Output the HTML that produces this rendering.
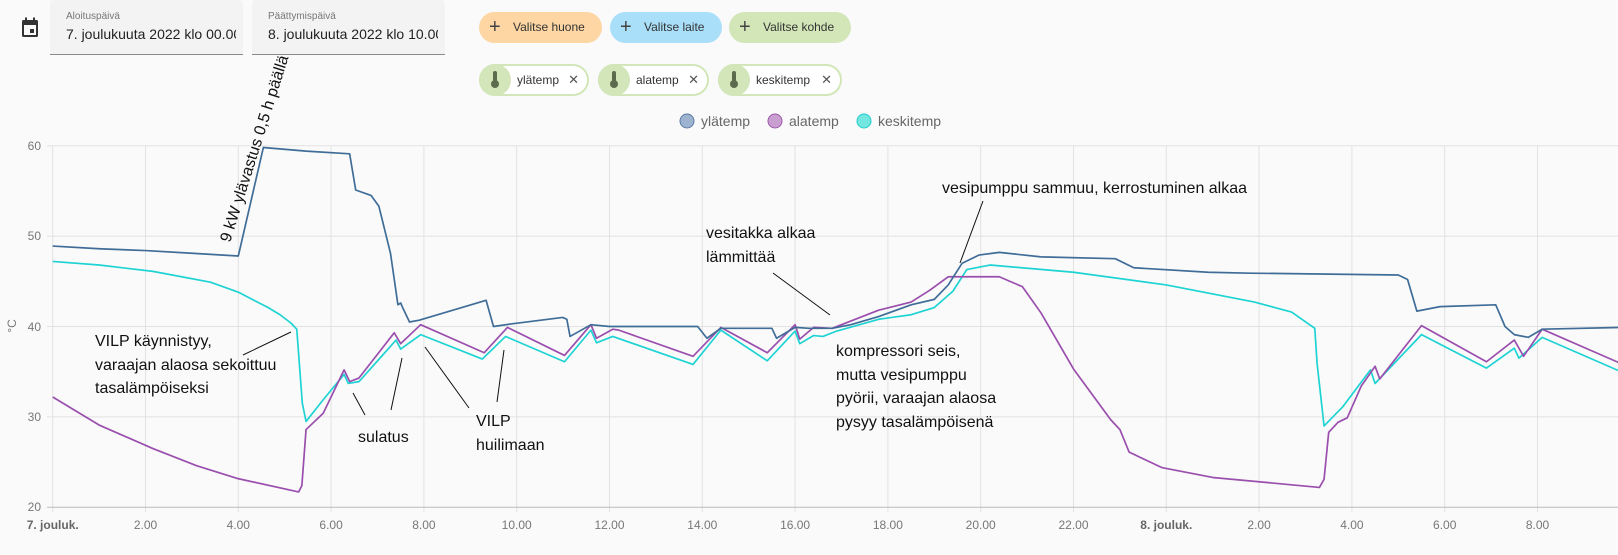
<!DOCTYPE html>
<html><head><meta charset="utf-8"><style>
body{margin:0;width:1618px;height:555px;background:#fafafa;font-family:"Liberation Sans",sans-serif;overflow:hidden;position:relative}
.abs{position:absolute}
.field{position:absolute;top:0;height:54px;background:#f3f3f3;border-bottom:1px solid #8a8a8a;border-radius:4px 4px 0 0}
.field .l{position:absolute;left:16px;top:11px;font-size:10px;color:#777}
.field .v{position:absolute;left:16px;top:26px;font-size:14px;color:#222;white-space:nowrap;overflow:hidden;width:170px}
.chip{position:absolute;height:31px;border-radius:16px;font-size:12px;color:#333;line-height:31px;box-sizing:border-box}
.chip .p{position:absolute;left:10px;top:0;font-size:20px;color:#444;font-weight:300}
.chip .t{position:absolute;left:34px}
.c2{position:absolute;height:32px;border-radius:16px;border:2px solid #d3e6b9;background:#fff;box-sizing:border-box;font-size:12px;color:#333;line-height:28px}
.c2 .ic{position:absolute;left:-2px;top:-2px;width:32px;height:32px;border-radius:16px;background:#d3e6b9}
.c2 .ic:before{content:"";position:absolute;left:14px;top:7px;width:4px;height:12px;background:#5c6b4e;border-radius:2px}
.c2 .ic:after{content:"";position:absolute;left:12px;top:16px;width:8px;height:8px;background:#5c6b4e;border-radius:4px}
.c2 .t{position:absolute;left:36px}
.c2 .x{position:absolute;right:8px;font-size:13px;color:#555}
.ann{position:absolute;font-size:16px;color:#111;line-height:23.5px;white-space:nowrap}
</style></head><body>
<svg class="abs" style="left:21px;top:17px" width="20" height="22" viewBox="0 0 20 22"><rect x="1" y="3" width="16" height="17" rx="1.5" fill="#333"/><rect x="3" y="8" width="12" height="10" fill="#fafafa"/><rect x="9" y="12" width="4" height="4" fill="#333"/><rect x="4" y="0.5" width="2" height="4" fill="#333"/><rect x="12" y="0.5" width="2" height="4" fill="#333"/></svg>
<div class="field" style="left:50px;width:193px"><div class="l">Aloituspäivä</div><div class="v">7. joulukuuta 2022 klo 00.00</div></div>
<div class="field" style="left:252px;width:193px"><div class="l">Päättymispäivä</div><div class="v">8. joulukuuta 2022 klo 10.00</div></div>

<div class="chip" style="left:479px;top:12px;width:123px;background:#fdd6a3"><span class="p">+</span><span class="t">Valitse huone</span></div>
<div class="chip" style="left:610px;top:12px;width:112px;background:#aadff9"><span class="p">+</span><span class="t">Valitse laite</span></div>
<div class="chip" style="left:729px;top:12px;width:122px;background:#d2e6b8"><span class="p">+</span><span class="t">Valitse kohde</span></div>

<div class="c2" style="left:479px;top:64px;width:110px"><div class="ic"></div><span class="t">ylätemp</span><span class="x">✕</span></div>
<div class="c2" style="left:598px;top:64px;width:111px"><div class="ic"></div><span class="t">alatemp</span><span class="x">✕</span></div>
<div class="c2" style="left:718px;top:64px;width:124px"><div class="ic"></div><span class="t">keskitemp</span><span class="x">✕</span></div>

<svg class="abs" style="left:0;top:0" width="1618" height="555">
<g font-size="14" fill="#666">
<circle cx="687" cy="121" r="7" fill="#9db3cf" stroke="#5a7ca3" stroke-width="1"/><text x="701" y="126">ylätemp</text>
<circle cx="775" cy="121" r="7" fill="#c99fd2" stroke="#9a5aa8" stroke-width="1"/><text x="789" y="126">alatemp</text>
<circle cx="864" cy="121" r="7" fill="#74e6e0" stroke="#22cccc" stroke-width="1"/><text x="878" y="126">keskitemp</text>
</g>
<g stroke="#e2e2e2" stroke-width="1">
<line x1="47" y1="145.7" x2="1618" y2="145.7"/><line x1="47" y1="236.1" x2="1618" y2="236.1"/><line x1="47" y1="326.5" x2="1618" y2="326.5"/><line x1="47" y1="416.9" x2="1618" y2="416.9"/>
<line x1="52.7" y1="145.7" x2="52.7" y2="512"/><line x1="145.5" y1="145.7" x2="145.5" y2="512"/><line x1="238.3" y1="145.7" x2="238.3" y2="512"/><line x1="331.1" y1="145.7" x2="331.1" y2="512"/><line x1="423.9" y1="145.7" x2="423.9" y2="512"/><line x1="516.7" y1="145.7" x2="516.7" y2="512"/><line x1="609.5" y1="145.7" x2="609.5" y2="512"/><line x1="702.3" y1="145.7" x2="702.3" y2="512"/><line x1="795.1" y1="145.7" x2="795.1" y2="512"/><line x1="887.9" y1="145.7" x2="887.9" y2="512"/><line x1="980.7" y1="145.7" x2="980.7" y2="512"/><line x1="1073.5" y1="145.7" x2="1073.5" y2="512"/><line x1="1166.3" y1="145.7" x2="1166.3" y2="512"/><line x1="1259.1" y1="145.7" x2="1259.1" y2="512"/><line x1="1351.9" y1="145.7" x2="1351.9" y2="512"/><line x1="1444.7" y1="145.7" x2="1444.7" y2="512"/><line x1="1537.5" y1="145.7" x2="1537.5" y2="512"/>
</g>
<line x1="47" y1="507.3" x2="1618" y2="507.3" stroke="#bbb"/>
<g font-size="12" fill="#777" text-anchor="end">
<text x="41" y="150">60</text><text x="41" y="240">50</text><text x="41" y="331">40</text><text x="41" y="421">30</text><text x="41" y="511">20</text>
</g>
<text x="16" y="326" font-size="12" fill="#777" transform="rotate(-90 16 326)" text-anchor="middle">°C</text>
<g font-size="12" fill="#777" text-anchor="middle">
<text x="52.7" y="529" font-weight="bold" fill="#666">7. jouluk.</text><text x="145.5" y="529">2.00</text><text x="238.3" y="529">4.00</text><text x="331.1" y="529">6.00</text><text x="423.9" y="529">8.00</text><text x="516.7" y="529">10.00</text><text x="609.5" y="529">12.00</text><text x="702.3" y="529">14.00</text><text x="795.1" y="529">16.00</text><text x="887.9" y="529">18.00</text><text x="980.7" y="529">20.00</text><text x="1073.5" y="529">22.00</text><text x="1166.3" y="529" font-weight="bold" fill="#666">8. jouluk.</text><text x="1259.1" y="529">2.00</text><text x="1351.9" y="529">4.00</text><text x="1444.7" y="529">6.00</text><text x="1537.5" y="529">8.00</text>
</g>
<g transform="matrix(46.4 0 0 -9.04 52.7 688.1)" fill="none" stroke-width="1.7" stroke-linejoin="round">
<polyline vector-effect="non-scaling-stroke" stroke="#1ed3d3" points="0,47.2 1,46.8 2.16,46.1 3.4,44.9 4.0,43.8 4.64,42.1 4.9,41.3 5.13,40.4 5.26,39.7 5.38,31.5 5.46,29.5 5.83,31.9 6.28,34.7 6.37,33.7 6.6,33.9 7.4,38.5 7.5,37.5 7.93,39.1 9.26,36.4 9.76,38.9 11.03,36.1 11.6,39.6 11.72,38.2 12.07,38.9 13.8,35.8 14.4,39.6 15.4,36.2 16.0,39.5 16.1,38.1 16.4,39.0 16.6,38.9 16.9,39.5 17.8,40.8 18.5,41.3 19.0,42.1 19.4,43.9 19.7,46.3 20.2,46.8 22.0,46.0 24.0,44.6 25.9,42.7 26.7,41.6 27.2,39.8 27.25,35.9 27.4,29.0 27.8,31.1 28.4,35.2 28.5,33.7 29.5,39.1 30.9,35.4 31.5,37.6 31.6,36.5 32.1,38.8 33.8,35.0"/>
<polyline vector-effect="non-scaling-stroke" stroke="#9a4ead" points="0,32.2 1,29.1 2.16,26.5 3.1,24.6 3.97,23.2 5.3,21.7 5.37,22.4 5.46,28.6 5.83,30.4 6.28,35.2 6.4,33.9 6.6,34.3 7.36,39.3 7.5,38.1 7.93,40.2 9.3,37.1 9.8,39.9 11.03,36.8 11.6,40.2 11.72,38.7 12.07,39.7 12.2,39.6 13.8,36.7 14.4,39.9 15.4,37.1 16.0,40.2 16.1,38.6 16.4,39.9 16.8,39.8 17.8,41.8 18.5,42.7 18.9,44.0 19.3,45.5 20.4,45.5 20.9,44.4 21.3,41.5 22.0,35.3 22.8,29.7 23.0,28.6 23.2,26.1 23.9,24.4 25.0,23.3 27.3,22.2 27.4,23.1 27.5,28.3 27.7,29.4 27.9,29.9 28.2,33.4 28.5,35.6 28.6,34.2 29.5,40.1 30.9,36.1 31.5,38.5 31.7,36.7 32.1,39.7 33.8,35.9"/>
<polyline vector-effect="non-scaling-stroke" stroke="#3f6d98" points="0,48.9 1,48.6 2,48.4 3,48.1 4.0,47.8 4.54,59.8 5.46,59.4 6.4,59.1 6.53,55.1 6.86,54.5 7.03,53.3 7.28,48.1 7.44,42.4 7.5,42.6 7.55,42 7.69,40.5 7.9,40.7 9.34,42.9 9.5,40.0 9.9,40.3 10.99,41.0 11.08,40.8 11.15,38.9 11.6,40.2 12,40.0 13.9,40.0 14.1,38.7 14.4,39.8 15.5,39.8 15.6,38.7 16.0,39.9 16.3,39.8 16.8,39.8 17.2,40.2 17.8,41.1 18.5,42.4 19.0,43.0 19.3,44.6 19.6,47 19.96,47.9 20.4,48.2 21.3,47.7 22.9,47.5 23.3,46.5 24.9,46.0 25.8,45.9 29.0,45.7 29.2,45.2 29.4,41.7 29.9,42.2 31.1,42.4 31.3,40.0 31.5,39.1 31.8,38.8 32.1,39.7 33.8,39.9"/>
</g>
<g stroke="#111" stroke-width="1">
<line x1="243" y1="355" x2="291" y2="332"/>
<line x1="365" y1="415" x2="353" y2="393"/>
<line x1="391" y1="410" x2="402" y2="358"/>
<line x1="469" y1="408" x2="425" y2="347"/>
<line x1="497" y1="402" x2="504" y2="350"/>
<line x1="773" y1="273" x2="830" y2="315"/>
<line x1="983" y1="201" x2="960" y2="263"/>
</g>
<text x="230" y="243" font-size="16" fill="#111" transform="rotate(-72.5 230 243)">9 kW ylävastus 0,5 h päällä</text>
</svg>
<div class="ann" style="left:95px;top:330px">VILP käynnistyy,<br>varaajan alaosa sekoittuu<br>tasalämpöiseksi</div>
<div class="ann" style="left:358px;top:426px">sulatus</div>
<div class="ann" style="left:476px;top:410px">VILP<br>huilimaan</div>
<div class="ann" style="left:706px;top:222px">vesitakka alkaa<br>lämmittää</div>
<div class="ann" style="left:942px;top:177px">vesipumppu sammuu, kerrostuminen alkaa</div>
<div class="ann" style="left:836px;top:340px">kompressori seis,<br>mutta vesipumppu<br>pyörii, varaajan alaosa<br>pysyy tasalämpöisenä</div>
</body></html>
